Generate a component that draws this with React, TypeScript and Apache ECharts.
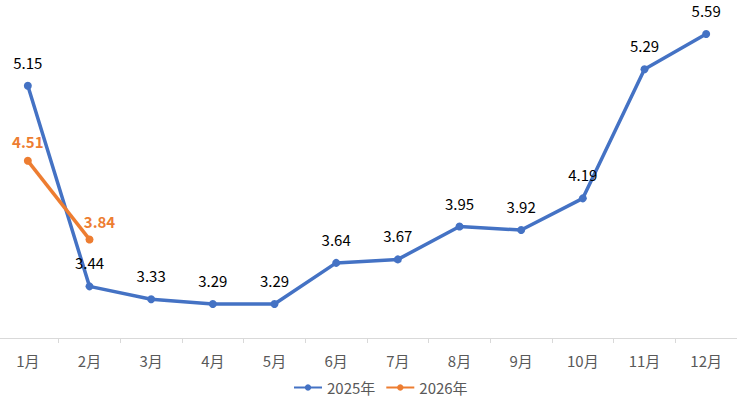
import React, { useEffect, useRef } from "react";
import * as echarts from "echarts";

const months = ["1月", "2月", "3月", "4月", "5月", "6月", "7月", "8月", "9月", "10月", "11月", "12月"];
const values2025 = [5.15, 3.44, 3.33, 3.29, 3.29, 3.64, 3.67, 3.95, 3.92, 4.19, 5.29, 5.59];
const values2026 = [4.51, 3.84];

const FONT = "'Noto Sans CJK SC', 'Noto Sans', sans-serif";
const BLUE = "#4472C4";
const ORANGE = "#ED7D31";

export default function App() {
  const chartRef = useRef<HTMLDivElement>(null);

  useEffect(() => {
    if (!chartRef.current) return;
    const chart = echarts.init(chartRef.current, null, { renderer: "svg" });

    chart.setOption({
      animation: false,
      textStyle: { fontFamily: FONT },
      grid: { left: 0, right: 0, top: 20, bottom: 64, containLabel: false },
      legend: {
        bottom: 2,
        left: 291,
        itemWidth: 28,
        itemHeight: 8,
        itemGap: 10,
        textStyle: { fontSize: 15, color: "#595959", fontFamily: FONT },
        data: ["2025年", "2026年"],
      },
      xAxis: {
        type: "category",
        data: months,
        axisLine: { lineStyle: { color: "#D9D9D9", width: 1 } },
        axisTick: { show: true, length: 5, lineStyle: { color: "#D9D9D9" } },
        axisLabel: { fontSize: 15, color: "#595959", margin: 15, fontFamily: FONT },
      },
      yAxis: {
        type: "value",
        min: 3,
        max: 5.71,
        show: false,
        splitLine: { show: false },
      },
      series: [
        {
          name: "2025年",
          type: "line",
          clip: false,
          data: values2025,
          symbol: "circle",
          symbolSize: 8,
          lineStyle: { color: BLUE, width: 3.5 },
          itemStyle: { color: BLUE },
          label: {
            show: true,
            position: "top",
            distance: 12,
            fontSize: 15,
            color: "#000000",
            fontFamily: FONT,
            formatter: (p: any) => p.value.toFixed(2),
          },
        },
        {
          name: "2026年",
          type: "line",
          clip: false,
          data: values2026.map((v, i) =>
            i === 1 ? { value: v, label: { offset: [10, 2] } } : v
          ),
          symbol: "circle",
          symbolSize: 8,
          lineStyle: { color: ORANGE, width: 3.5 },
          itemStyle: { color: ORANGE },
          label: {
            show: true,
            position: "top",
            distance: 8,
            fontSize: 15,
            fontWeight: "bold",
            color: ORANGE,
            fontFamily: FONT,
            formatter: (p: any) => Number(p.value).toFixed(2),
          },
        },
      ],
    });

    return () => chart.dispose();
  }, []);

  return (
    <div
      ref={chartRef}
      style={{ position: "absolute", left: -3, top: 0, width: 740, height: 402 }}
    />
  );
}
